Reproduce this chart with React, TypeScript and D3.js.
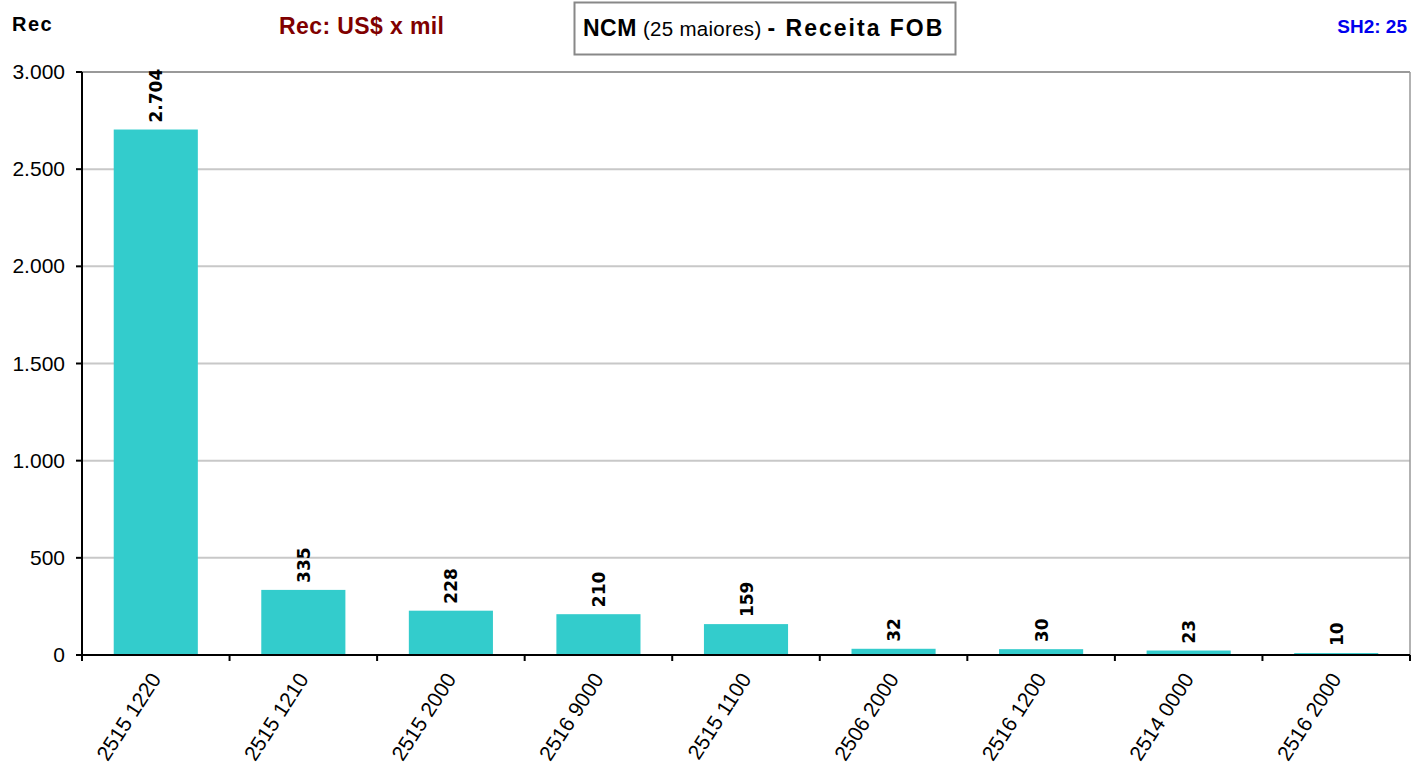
import React from "react";
import * as d3 from "d3";

const categories = ["2515 1220", "2515 1210", "2515 2000", "2516 9000", "2515 1100", "2506 2000", "2516 1200", "2514 0000", "2516 2000"];
const values = [2704, 335, 228, 210, 159, 32, 30, 23, 10];
const yTicks = [0, 500, 1000, 1500, 2000, 2500, 3000];

const W = 1412, H = 774;
const M = { left: 82, right: 1410, top: 72, bottom: 655 };

const fmt = (v: number) => d3.format(",")(v).replace(/,/g, ".");

export default function App() {
  const x = d3.scaleBand<string>().domain(categories).range([M.left, M.right]).paddingInner(0.43).paddingOuter(0.215);
  const xb = d3.scaleBand<string>().domain(categories).range([M.left, M.right]).padding(0);
  const y = d3.scaleLinear().domain([0, 3000]).range([M.bottom, M.top]);
  const font = "'Liberation Sans', Arial, sans-serif";
  return (
    <svg width={W} height={H} style={{ position: "absolute", left: 0, top: 0, background: "#fff" }}>
      <rect x={0} y={0} width={W} height={H} fill="#fff" />
      {/* titles */}
      <text x={12} y={31} fontFamily={font} fontWeight="bold" fontSize={20} letterSpacing={1.5} fill="#000">Rec</text>
      <text x={279} y={34} fontFamily={font} fontWeight="bold" fontSize={23} letterSpacing={0.4} fill="#800000">Rec: US$ x mil</text>
      <rect x={574.5} y={2.5} width={381} height={52} fill="#fff" stroke="#888" strokeWidth={2} />
      <text x={583} y={36} fontFamily={font} fill="#000">
        <tspan fontWeight="bold" fontSize={23} letterSpacing={0.5}>NCM</tspan>
        <tspan fontSize={20.5} letterSpacing={0.3}> (25 maiores) </tspan>
        <tspan fontWeight="bold" fontSize={23} letterSpacing={2}>- Receita FOB</tspan>
      </text>
      <text x={1407} y={33} textAnchor="end" fontFamily={font} fontWeight="bold" fontSize={19} fill="#0000ee">SH2: 25</text>
      {/* gridlines */}
      {yTicks.filter(t => t > 0).map(t => (
        <line key={t} x1={M.left} x2={M.right} y1={y(t)} y2={y(t)} stroke={t === 3000 ? "#999" : "#c8c8c8"} strokeWidth={2} />
      ))}
      <line x1={M.right} x2={M.right} y1={M.top} y2={M.bottom} stroke="#999" strokeWidth={1.5} />
      {/* bars */}
      {categories.map((c, i) => (
        <rect key={c} x={x(c)} y={y(values[i])} width={x.bandwidth()} height={M.bottom - y(values[i])} fill="#33CCCC" />
      ))}
      {/* value labels */}
      {categories.map((c, i) => {
        const cx = (x(c) as number) + x.bandwidth() / 2;
        const ty = y(values[i]) - 7;
        return (
          <text key={c} transform={`translate(${cx + 6.5},${ty}) rotate(-90)`} fontFamily="'DejaVu Sans', Verdana, sans-serif" fontWeight="bold" fontSize={17} fill="#000">{fmt(values[i])}</text>
        );
      })}
      {/* y axis */}
      <line x1={M.left} x2={M.left} y1={M.top} y2={M.bottom + 6} stroke="#000" strokeWidth={2} />
      {yTicks.map(t => (
        <g key={t}>
          <line x1={M.left - 6} x2={M.left} y1={y(t)} y2={y(t)} stroke="#000" strokeWidth={2} />
          <text x={65} y={y(t) + 7} textAnchor="end" fontFamily={font} fontSize={21} fill="#000">{fmt(t)}</text>
        </g>
      ))}
      {/* x axis */}
      <line x1={M.left - 6} x2={M.right} y1={M.bottom} y2={M.bottom} stroke="#000" strokeWidth={2} />
      {categories.concat([""]).map((c, i) => {
        const tx = i < categories.length ? (xb(c) as number) : M.right;
        return <line key={"t" + i} x1={tx} x2={tx} y1={M.bottom} y2={M.bottom + 6} stroke="#000" strokeWidth={2} />;
      })}
      {categories.map(c => {
        const cx = (xb(c) as number) + xb.bandwidth() / 2;
        return (
          <text key={"l" + c} transform={`translate(${cx + 6},${M.bottom + 24}) rotate(-57)`} textAnchor="end" fontFamily={font} fontSize={21} fill="#000">{c}</text>
        );
      })}
    </svg>
  );
}
